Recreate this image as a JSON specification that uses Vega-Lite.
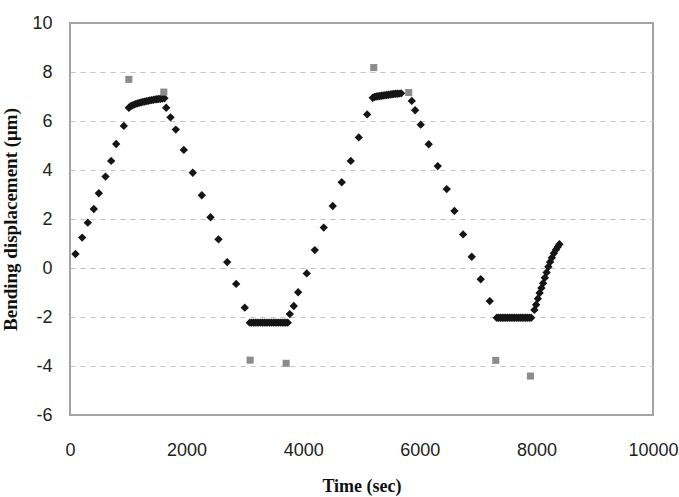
{
  "$schema": "https://vega.github.io/schema/vega-lite/v6.json",
  "width": 583,
  "height": 392,
  "autosize": {"type": "none"},
  "padding": {"left": 70, "top": 23, "right": 26, "bottom": 82},
  "background": "white",
  "config": {
    "view": {"stroke": "#a3a3a3", "strokeWidth": 2},
    "axis": {
      "domain": false,
      "ticks": false,
      "labelFont": "Liberation Sans",
      "labelFontSize": 18,
      "labelColor": "#222222",
      "titleFont": "Liberation Serif",
      "titleFontWeight": "bold",
      "titleColor": "#111111"
    }
  },
  "datasets": {
    "pts": [
      {"t": 94, "d": 0.57, "s": "model"},
      {"t": 209, "d": 1.24, "s": "model"},
      {"t": 305, "d": 1.85, "s": "model"},
      {"t": 408, "d": 2.41, "s": "model"},
      {"t": 494, "d": 3.05, "s": "model"},
      {"t": 609, "d": 3.73, "s": "model"},
      {"t": 706, "d": 4.37, "s": "model"},
      {"t": 792, "d": 5.06, "s": "model"},
      {"t": 923, "d": 5.80, "s": "model"},
      {"t": 1009, "d": 6.54, "s": "model"},
      {"t": 1040, "d": 6.60, "s": "model"},
      {"t": 1070, "d": 6.64, "s": "model"},
      {"t": 1100, "d": 6.67, "s": "model"},
      {"t": 1130, "d": 6.70, "s": "model"},
      {"t": 1160, "d": 6.72, "s": "model"},
      {"t": 1190, "d": 6.74, "s": "model"},
      {"t": 1220, "d": 6.76, "s": "model"},
      {"t": 1250, "d": 6.78, "s": "model"},
      {"t": 1280, "d": 6.79, "s": "model"},
      {"t": 1310, "d": 6.81, "s": "model"},
      {"t": 1340, "d": 6.82, "s": "model"},
      {"t": 1370, "d": 6.84, "s": "model"},
      {"t": 1400, "d": 6.85, "s": "model"},
      {"t": 1430, "d": 6.86, "s": "model"},
      {"t": 1460, "d": 6.88, "s": "model"},
      {"t": 1490, "d": 6.89, "s": "model"},
      {"t": 1520, "d": 6.90, "s": "model"},
      {"t": 1550, "d": 6.91, "s": "model"},
      {"t": 1580, "d": 6.92, "s": "model"},
      {"t": 1620, "d": 6.93, "s": "model"},
      {"t": 1650, "d": 6.54, "s": "model"},
      {"t": 1724, "d": 6.15, "s": "model"},
      {"t": 1815, "d": 5.65, "s": "model"},
      {"t": 1952, "d": 4.82, "s": "model"},
      {"t": 2106, "d": 3.89, "s": "model"},
      {"t": 2261, "d": 2.97, "s": "model"},
      {"t": 2410, "d": 2.07, "s": "model"},
      {"t": 2547, "d": 1.17, "s": "model"},
      {"t": 2696, "d": 0.24, "s": "model"},
      {"t": 2850, "d": -0.65, "s": "model"},
      {"t": 2998, "d": -1.62, "s": "model"},
      {"t": 3084, "d": -2.23, "s": "model"},
      {"t": 3115, "d": -2.23, "s": "model"},
      {"t": 3146, "d": -2.23, "s": "model"},
      {"t": 3177, "d": -2.23, "s": "model"},
      {"t": 3208, "d": -2.23, "s": "model"},
      {"t": 3239, "d": -2.23, "s": "model"},
      {"t": 3270, "d": -2.23, "s": "model"},
      {"t": 3301, "d": -2.23, "s": "model"},
      {"t": 3332, "d": -2.23, "s": "model"},
      {"t": 3363, "d": -2.23, "s": "model"},
      {"t": 3394, "d": -2.23, "s": "model"},
      {"t": 3425, "d": -2.23, "s": "model"},
      {"t": 3456, "d": -2.23, "s": "model"},
      {"t": 3487, "d": -2.23, "s": "model"},
      {"t": 3518, "d": -2.23, "s": "model"},
      {"t": 3549, "d": -2.23, "s": "model"},
      {"t": 3580, "d": -2.23, "s": "model"},
      {"t": 3611, "d": -2.23, "s": "model"},
      {"t": 3642, "d": -2.23, "s": "model"},
      {"t": 3673, "d": -2.23, "s": "model"},
      {"t": 3704, "d": -2.23, "s": "model"},
      {"t": 3735, "d": -2.23, "s": "model"},
      {"t": 3770, "d": -1.88, "s": "model"},
      {"t": 3838, "d": -1.55, "s": "model"},
      {"t": 3913, "d": -0.99, "s": "model"},
      {"t": 4061, "d": -0.22, "s": "model"},
      {"t": 4199, "d": 0.73, "s": "model"},
      {"t": 4353, "d": 1.65, "s": "model"},
      {"t": 4507, "d": 2.53, "s": "model"},
      {"t": 4661, "d": 3.50, "s": "model"},
      {"t": 4816, "d": 4.37, "s": "model"},
      {"t": 4953, "d": 5.33, "s": "model"},
      {"t": 5097, "d": 6.27, "s": "model"},
      {"t": 5193, "d": 6.95, "s": "model"},
      {"t": 5223, "d": 6.98, "s": "model"},
      {"t": 5253, "d": 7.00, "s": "model"},
      {"t": 5283, "d": 7.01, "s": "model"},
      {"t": 5313, "d": 7.02, "s": "model"},
      {"t": 5343, "d": 7.03, "s": "model"},
      {"t": 5373, "d": 7.04, "s": "model"},
      {"t": 5403, "d": 7.05, "s": "model"},
      {"t": 5433, "d": 7.06, "s": "model"},
      {"t": 5463, "d": 7.07, "s": "model"},
      {"t": 5493, "d": 7.08, "s": "model"},
      {"t": 5523, "d": 7.09, "s": "model"},
      {"t": 5553, "d": 7.10, "s": "model"},
      {"t": 5583, "d": 7.11, "s": "model"},
      {"t": 5613, "d": 7.11, "s": "model"},
      {"t": 5643, "d": 7.12, "s": "model"},
      {"t": 5680, "d": 7.13, "s": "model"},
      {"t": 5862, "d": 6.82, "s": "model"},
      {"t": 5920, "d": 6.44, "s": "model"},
      {"t": 6016, "d": 5.85, "s": "model"},
      {"t": 6153, "d": 5.05, "s": "model"},
      {"t": 6308, "d": 4.16, "s": "model"},
      {"t": 6462, "d": 3.22, "s": "model"},
      {"t": 6594, "d": 2.33, "s": "model"},
      {"t": 6743, "d": 1.37, "s": "model"},
      {"t": 6891, "d": 0.46, "s": "model"},
      {"t": 7045, "d": -0.46, "s": "model"},
      {"t": 7200, "d": -1.35, "s": "model"},
      {"t": 7320, "d": -2.03, "s": "model"},
      {"t": 7351, "d": -2.03, "s": "model"},
      {"t": 7382, "d": -2.03, "s": "model"},
      {"t": 7413, "d": -2.03, "s": "model"},
      {"t": 7444, "d": -2.03, "s": "model"},
      {"t": 7475, "d": -2.03, "s": "model"},
      {"t": 7506, "d": -2.03, "s": "model"},
      {"t": 7537, "d": -2.03, "s": "model"},
      {"t": 7568, "d": -2.03, "s": "model"},
      {"t": 7599, "d": -2.03, "s": "model"},
      {"t": 7630, "d": -2.03, "s": "model"},
      {"t": 7661, "d": -2.03, "s": "model"},
      {"t": 7692, "d": -2.03, "s": "model"},
      {"t": 7723, "d": -2.03, "s": "model"},
      {"t": 7754, "d": -2.03, "s": "model"},
      {"t": 7785, "d": -2.03, "s": "model"},
      {"t": 7816, "d": -2.03, "s": "model"},
      {"t": 7847, "d": -2.03, "s": "model"},
      {"t": 7878, "d": -2.03, "s": "model"},
      {"t": 7910, "d": -2.03, "s": "model"},
      {"t": 7966, "d": -1.71, "s": "model"},
      {"t": 7995, "d": -1.50, "s": "model"},
      {"t": 8025, "d": -1.25, "s": "model"},
      {"t": 8055, "d": -1.02, "s": "model"},
      {"t": 8085, "d": -0.82, "s": "model"},
      {"t": 8115, "d": -0.62, "s": "model"},
      {"t": 8145, "d": -0.40, "s": "model"},
      {"t": 8175, "d": -0.18, "s": "model"},
      {"t": 8205, "d": 0.05, "s": "model"},
      {"t": 8235, "d": 0.25, "s": "model"},
      {"t": 8265, "d": 0.42, "s": "model"},
      {"t": 8300, "d": 0.60, "s": "model"},
      {"t": 8335, "d": 0.75, "s": "model"},
      {"t": 8365, "d": 0.86, "s": "model"},
      {"t": 8395, "d": 0.97, "s": "model"},
      {"t": 1009, "d": 7.70, "s": "measured"},
      {"t": 1609, "d": 7.18, "s": "measured"},
      {"t": 3090, "d": -3.76, "s": "measured"},
      {"t": 3708, "d": -3.89, "s": "measured"},
      {"t": 5210, "d": 8.18, "s": "measured"},
      {"t": 5810, "d": 7.16, "s": "measured"},
      {"t": 7303, "d": -3.77, "s": "measured"},
      {"t": 7898, "d": -4.41, "s": "measured"}
    ]
  },
  "data": {"name": "pts"},
  "encoding": {
    "x": {
      "field": "t",
      "type": "quantitative",
      "scale": {"domain": [0, 10000], "nice": false, "zero": false},
      "axis": {
        "title": "Time (sec)",
        "titleFontSize": 18,
        "titlePadding": 18,
        "values": [0, 2000, 4000, 6000, 8000, 10000],
        "labelExpr": "'' + datum.value",
        "labelPadding": 26,
        "grid": false,
        "labelFlush": false,
        "labelOverlap": false
      }
    },
    "y": {
      "field": "d",
      "type": "quantitative",
      "scale": {"domain": [-6, 10], "nice": false, "zero": false},
      "axis": {
        "title": "Bending displacement (μm)",
        "titleFontSize": 19,
        "titlePadding": 11,
        "values": [-6, -4, -2, 0, 2, 4, 6, 8, 10],
        "labelExpr": "'' + datum.value",
        "labelPadding": 18,
        "grid": true,
        "gridColor": "#c4c4c4",
        "gridDash": [5, 5],
        "gridWidth": 1,
        "gridOpacity": {"condition": {"test": "datum.value == 10 || datum.value == -6", "value": 0}, "value": 1},
        "labelFlush": false,
        "labelOverlap": false
      }
    }
  },
  "layer": [
    {
      "transform": [{"filter": "datum.s == 'model'"}],
      "mark": {"type": "point", "shape": "diamond", "filled": true, "size": 70, "color": "#151515", "opacity": 1}
    },
    {
      "transform": [{"filter": "datum.s == 'measured'"}],
      "mark": {"type": "point", "shape": "square", "filled": true, "size": 50, "color": "#8c8c8c", "opacity": 1}
    }
  ]
}
